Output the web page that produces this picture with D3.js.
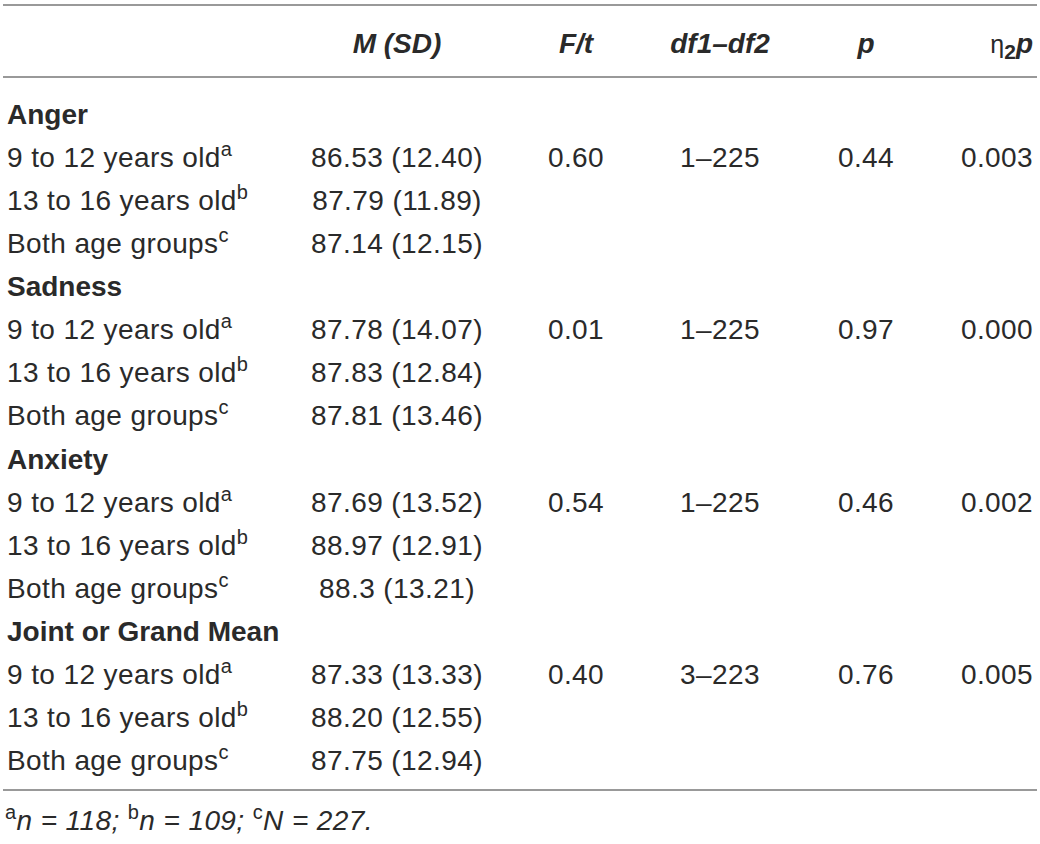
<!DOCTYPE html>
<html>
<head>
<meta charset="utf-8">
<script src="https://cdn.jsdelivr.net/npm/d3@7"></script>
<style>
  html, body { margin: 0; padding: 0; background: #fff; }
  svg text { font-family: "Liberation Sans", Arial, Helvetica, sans-serif; fill: #2a2a2a; }
</style>
</head>
<body>
<div id="table"></div>
<script>
// table content
var groups = ["Anger", "Sadness", "Anxiety", "Joint or Grand Mean"];
var ageLabels = ["9 to 12 years old", "13 to 16 years old", "Both age groups"];
var ageSup = ["a", "b", "c"];
var meanText = [
  ["86.53", "87.79", "87.14"],
  ["87.78", "87.83", "87.81"],
  ["87.69", "88.97", "88.3"],
  ["87.33", "88.20", "87.75"]
];
var sdText = [
  ["12.40", "11.89", "12.15"],
  ["14.07", "12.84", "13.46"],
  ["13.52", "12.91", "13.21"],
  ["13.33", "12.55", "12.94"]
];
var fValues = ["0.60", "0.01", "0.54", "0.40"];
var dfValues = ["1–225", "1–225", "1–225", "3–223"];
var pValues = ["0.44", "0.97", "0.46", "0.76"];
var etaValues = ["0.003", "0.000", "0.002", "0.005"];
var columns = ["label", "msd", "f", "df", "p", "eta"];

var W = 1040, H = 844, fs = 28;

var svg = d3.select("#table")
            .append("svg")
            .attr("width", W).attr("height", H);

// build row list
var rows = [];
groups.forEach(function(g, gi) {
  rows.push({key: "g" + gi, type: "group", label: g});
  ageLabels.forEach(function(a, ai) {
    rows.push({
      key: "r" + gi + "_" + ai, type: "row", label: a, sup: ageSup[ai],
      msd: meanText[gi][ai] + " (" + sdText[gi][ai] + ")",
      f: ai === 0 ? fValues[gi] : "",
      df: ai === 0 ? dfValues[gi] : "",
      p: ai === 0 ? pValues[gi] : "",
      eta: ai === 0 ? etaValues[gi] : ""
    });
  });
});

var y = d3.scaleBand()
          .domain(rows.map(function(d) { return d.key; }))
          .range([91, 781]);

var x = d3.scaleOrdinal()
          .domain(columns)
          .range([7, 397, 576, 720, 866, 1033]);
var anchor = d3.scaleOrdinal()
          .domain(columns)
          .range(["start", "middle", "middle", "middle", "middle", "end"]);

function baseY(d) { return y(d.key) + y.bandwidth() / 2 + 11; }

// rules
var rules = [5, 77, 790];
svg.selectAll("line.rule")
   .data(rules)
   .enter()
   .append("line")
   .attr("class", "rule")
   .attr("x1", 3).attr("x2", 1037)
   .attr("y1", function(d) { return d; })
   .attr("y2", function(d) { return d; })
   .style("stroke", "#999")
   .style("stroke-width", 2);

// header
var head = svg.append("g").attr("font-size", fs).attr("font-weight", "bold");
var headers = [
  {col: "msd", text: "M (SD)"},
  {col: "f", text: "F/t"},
  {col: "df", text: "df1–df2"},
  {col: "p", text: "p"}
];
head.selectAll("text.h")
    .data(headers)
    .enter()
    .append("text")
    .attr("x", function(d) { return x(d.col); })
    .attr("y", 53)
    .attr("text-anchor", function(d) { return anchor(d.col); })
    .attr("font-style", "italic")
    .text(function(d) { return d.text; });

var eta = head.append("text")
    .attr("x", x("eta"))
    .attr("y", 53)
    .attr("text-anchor", "end");
eta.append("tspan").attr("font-weight", "normal").attr("font-size", 25).text("η");
eta.append("tspan").attr("font-size", 21).attr("dy", 6).text("2");
eta.append("tspan").attr("font-style", "italic").attr("dy", -6).text("p");

// body
var body = svg.append("g").attr("font-size", fs).attr("letter-spacing", 0.4);

body.selectAll("text.group")
    .data(rows.filter(function(d) { return d.type === "group"; }))
    .enter()
    .append("text")
    .attr("class", "group")
    .attr("x", x("label"))
    .attr("y", baseY)
    .attr("font-weight", "bold")
    .attr("letter-spacing", 0)
    .text(function(d) { return d.label; });

var dataRows = rows.filter(function(d) { return d.type === "row"; });

var lbl = body.selectAll("text.label")
    .data(dataRows)
    .enter()
    .append("text")
    .attr("class", "label")
    .attr("x", x("label"))
    .attr("y", baseY);
lbl.append("tspan").text(function(d) { return d.label; });
lbl.append("tspan")
   .attr("font-size", 20)
   .attr("dy", -11)
   .text(function(d) { return d.sup; });

["msd", "f", "df", "p", "eta"].forEach(function(c) {
  body.selectAll("text.c-" + c)
      .data(dataRows)
      .enter()
      .append("text")
      .attr("class", "c-" + c)
      .attr("x", x(c))
      .attr("y", baseY)
      .attr("text-anchor", anchor(c))
      .text(function(d) { return d[c]; });
});

// footnote
var notes = [
  {sup: "a", text: "n = 118; "},
  {sup: "b", text: "n = 109; "},
  {sup: "c", text: "N = 227."}
];
var foot = svg.append("text")
    .attr("x", 5)
    .attr("y", 830)
    .attr("font-size", fs)
    .attr("letter-spacing", 0.4);
notes.forEach(function(n) {
  foot.append("tspan").attr("font-size", 20).attr("dy", -11).text(n.sup);
  foot.append("tspan").attr("font-style", "italic").attr("dy", 11).text(n.text);
});
</script>
</body>
</html>
